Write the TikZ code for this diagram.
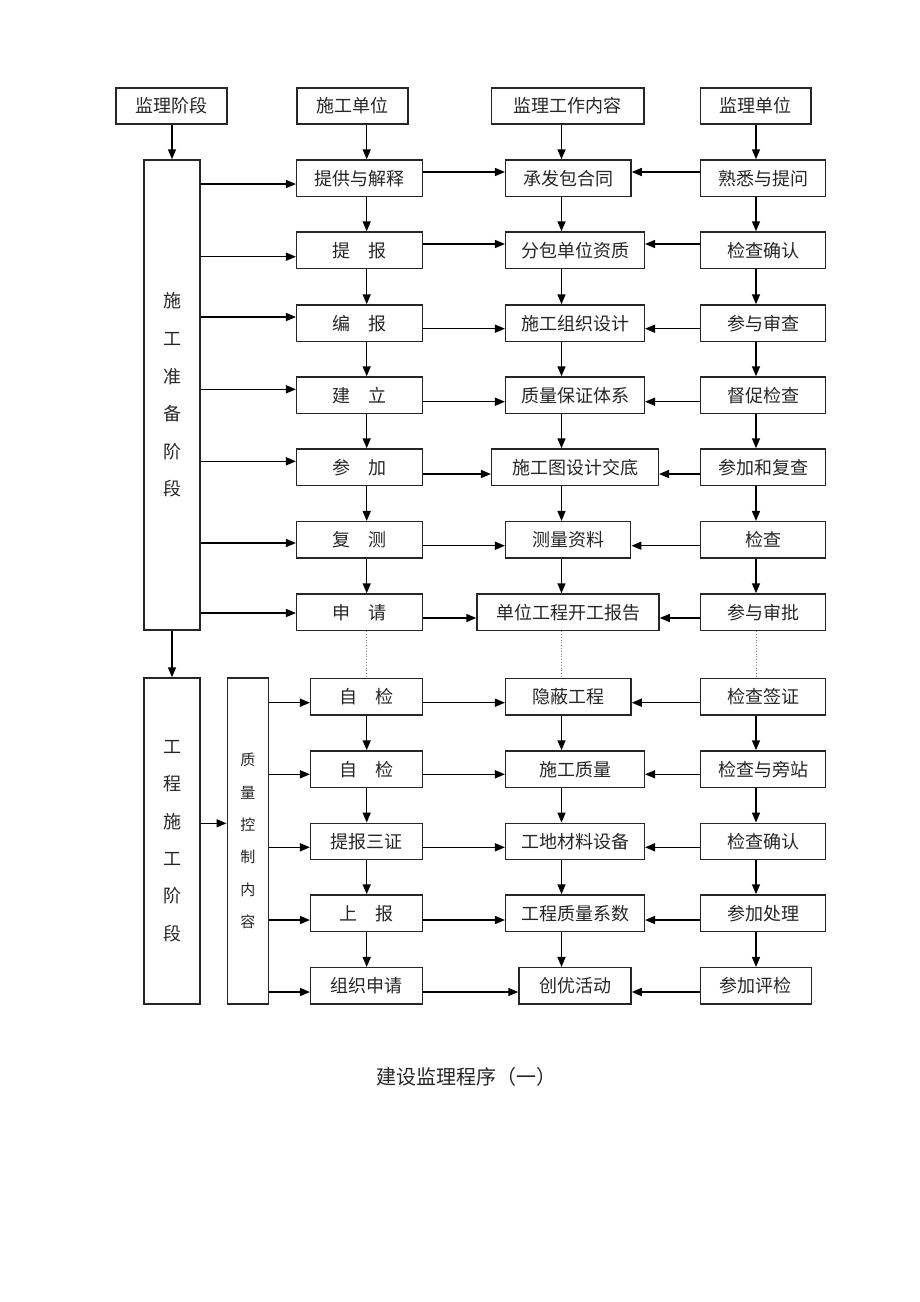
\documentclass[tikz,border=0pt]{standalone}
\usepackage{fontspec}
\newfontfamily\cjk{Noto Sans CJK SC}
\usetikzlibrary{arrows.meta}
\newcommand\boxnode[6]{\node[box,minimum width={(#3)-(#2)},minimum height={(#5)-(#4)}] (#1) at ({((#2)+(#3))/2},{((#4)+(#5))/2}) {#6};}
\newcommand\gap{\hspace{1em}}
\begin{document}
\begin{tikzpicture}[x=1pt,y=-1pt,
 box/.style={draw=black!85,line width=1.5pt,inner sep=0pt,text=black!85,font=\cjk\fontsize{18}{20}\selectfont},
 arr/.style={line width=1.5pt,-{Triangle[length=10pt,width=8pt]}},
 dotline/.style={gray,dotted,line width=0.8pt}]
\useasboundingbox[fill=white] (0,0) rectangle (920,1302);
% headers
\boxnode{h1}{116}{227}{88}{124}{监理阶段}
\boxnode{h2}{297}{408}{88}{124}{施工单位}
\boxnode{h3}{491.7}{644}{88}{124}{监理工作内容}
\boxnode{h4}{700.5}{811}{88}{124}{监理单位}
% stage boxes
\node[box,minimum width=56,minimum height=470,align=center,font=\cjk\fontsize{18}{37.6}\selectfont] (s1) at (172,395) {施\\工\\准\\备\\阶\\段};
\node[box,minimum width=56,minimum height=326,align=center,font=\cjk\fontsize{18}{37.4}\selectfont] (s2) at (172,841) {工\\程\\施\\工\\阶\\段};
\node[box,minimum width=41,minimum height=326,align=center,font=\cjk\fontsize{15}{32.4}\selectfont] (q) at (247.8,841) {质\\量\\控\\制\\内\\容};
% column A
\boxnode{a1}{296.7}{422.3}{160}{196.5}{提供与解释}
\boxnode{a2}{296.7}{422.3}{232}{268.5}{提\gap 报}
\boxnode{a3}{296.7}{422.3}{305}{341.5}{编\gap 报}
\boxnode{a4}{296.7}{422.3}{377}{413.5}{建\gap 立}
\boxnode{a5}{296.7}{422.3}{449}{485.5}{参\gap 加}
\boxnode{a6}{296.7}{422.3}{521.7}{558}{复\gap 测}
\boxnode{a7}{296.7}{422.3}{594}{630.5}{申\gap 请}
\boxnode{a8}{310.7}{422.3}{678.7}{715}{自\gap 检}
\boxnode{a9}{310.7}{422.3}{751}{787.3}{自\gap 检}
\boxnode{a10}{310.7}{422.3}{823.3}{859.6}{提报三证}
\boxnode{a11}{310.7}{422.3}{895}{931.5}{上\gap 报}
\boxnode{a12}{310.7}{422.3}{967.7}{1004}{组织申请}
% column B
\boxnode{b1}{505.7}{631}{160}{196.5}{承发包合同}
\boxnode{b2}{505.7}{644.3}{232}{268.5}{分包单位资质}
\boxnode{b3}{505.7}{644.3}{305}{341.5}{施工组织设计}
\boxnode{b4}{505.7}{644.3}{377}{413.5}{质量保证体系}
\boxnode{b5}{491.7}{658.3}{449}{485.5}{施工图设计交底}
\boxnode{b6}{505.7}{630.7}{521.7}{558}{测量资料}
\boxnode{b7}{477}{659}{594}{630.5}{单位工程开工报告}
\boxnode{b8}{505.7}{631}{678.7}{715}{隐蔽工程}
\boxnode{b9}{505.7}{644.3}{751}{787.3}{施工质量}
\boxnode{b10}{505.7}{644.3}{823.3}{859.6}{工地材料设备}
\boxnode{b11}{505.7}{644.3}{895}{931.5}{工程质量系数}
\boxnode{b12}{519}{631}{967.7}{1004}{创优活动}
% column C
\boxnode{c1}{700.3}{825.7}{160}{196.5}{熟悉与提问}
\boxnode{c2}{700.3}{825.7}{232}{268.5}{检查确认}
\boxnode{c3}{700.3}{825.7}{305}{341.5}{参与审查}
\boxnode{c4}{700.3}{825.7}{377}{413.5}{督促检查}
\boxnode{c5}{700.3}{825.7}{449}{485.5}{参加和复查}
\boxnode{c6}{700.3}{825.7}{521.7}{558}{检查}
\boxnode{c7}{700.3}{825.7}{594}{630.5}{参与审批}
\boxnode{c8}{700.3}{825.7}{678.7}{715}{检查签证}
\boxnode{c9}{700.3}{825.7}{751}{787.3}{检查与旁站}
\boxnode{c10}{700.3}{825.7}{823.3}{859.6}{检查确认}
\boxnode{c11}{700.3}{825.7}{895}{931.5}{参加处理}
\boxnode{c12}{700.3}{811.3}{967.7}{1004}{参加评检}
% column x positions
\coordinate (xS) at (172,0);
\coordinate (xA) at (366.7,0);
\coordinate (xB) at (561.5,0);
\coordinate (xC) at (756,0);
% header arrows
\draw[arr] (h1.south -| xS) -- (s1.north -| xS);
\draw[arr] (h2.south -| xA) -- (a1.north -| xA);
\draw[arr] (h3.south -| xB) -- (b1.north -| xB);
\draw[arr] (h4.south -| xC) -- (c1.north -| xC);
\draw[arr] (s1.south -| xS) -- (s2.north -| xS);
\draw[arr] (s2.east |- 0,823.3) -- (q.west |- 0,823.3);
% vertical arrows in columns
\foreach \i/\j in {1/2,2/3,3/4,4/5,5/6,6/7,8/9,9/10,10/11,11/12}{
  \draw[arr] (a\i.south -| xA) -- (a\j.north -| xA);
  \draw[arr] (b\i.south -| xB) -- (b\j.north -| xB);
  \draw[arr] (c\i.south -| xC) -- (c\j.north -| xC);
}
% dotted links
\draw[dotline] (a7.south -| xA) -- (a8.north -| xA);
\draw[dotline] (b7.south -| xB) -- (b8.north -| xB);
\draw[dotline] (c7.south -| xC) -- (c8.north -| xC);
% stage to A
\foreach \i/\y in {1/184,2/256.7,3/317,4/389.3,5/461.3,6/543,7/613}{
  \draw[arr] (s1.east |- 0,\y) -- (a\i.west |- 0,\y);
}
\foreach \i/\y in {8/702.7,9/774.3,10/847.3,11/920,12/992}{
  \draw[arr] (q.east |- 0,\y) -- (a\i.west |- 0,\y);
}
% A to B and C to B
\foreach \i/\y in {1/172,2/244,3/328.7,4/401.7,5/474,6/545.7,7/618,8/702.7,9/774.3,10/847.3,11/920,12/992}{
  \draw[arr] (a\i.east |- 0,\y) -- (b\i.west |- 0,\y);
  \draw[arr] (c\i.west |- 0,\y) -- (b\i.east |- 0,\y);
}
% caption
\node[font=\cjk\fontsize{20}{24}\selectfont,text=black!85] (cap) at (466,1077) {建设监理程序（一）};
\end{tikzpicture}
\end{document}
